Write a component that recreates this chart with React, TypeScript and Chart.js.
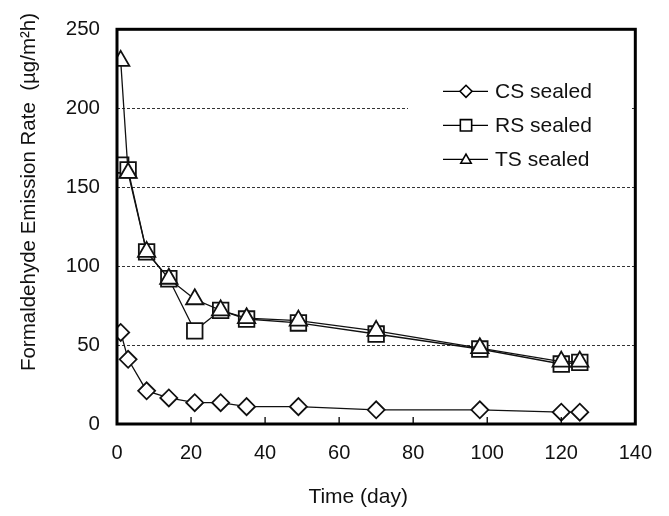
import React, { useEffect, useRef } from 'react';
import { Chart, registerables } from 'chart.js';

Chart.register(...registerables);

const days = [1, 3, 8, 14, 21, 28, 35, 49, 70, 98, 120, 125];
const csSealed = [58, 41, 21, 16.5, 13.5, 13.5, 11, 11, 9, 9, 7.5, 7.5];
const rsSealed = [164, 161, 109, 92, 59, 72, 66.5, 64, 57, 47.5, 38, 39];
const tsSealed = [230, 159, 109, 92, 79, 72, 67, 65.5, 59, 48, 39.5, 39.5];

const seriesNames = ['CS sealed', 'RS sealed', 'TS sealed'];
const seriesStyles = ['rectRot', 'rect', 'triangle'];
const xTicks = [0, 20, 40, 60, 80, 100, 120, 140];
const yTicks = [0, 50, 100, 150, 200, 250];
const xTitle = 'Time (day)';
const yTitle = 'Formaldehyde Emission Rate  (µg/m²h)';

const FONT = '"Liberation Sans", Arial, Helvetica, sans-serif';

function drawMarker(ctx: CanvasRenderingContext2D, style: string, x: number, y: number, r: number) {
  ctx.beginPath();
  if (style === 'rectRot') {
    ctx.moveTo(x - r, y);
    ctx.lineTo(x, y - r);
    ctx.lineTo(x + r, y);
    ctx.lineTo(x, y + r);
    ctx.closePath();
  } else if (style === 'rect') {
    const s = r * Math.SQRT1_2;
    ctx.rect(x - s, y - s, 2 * s, 2 * s);
  } else {
    const h = r * 0.866;
    ctx.moveTo(x, y - r * 0.85);
    ctx.lineTo(x + h, y + r * 0.65);
    ctx.lineTo(x - h, y + r * 0.65);
    ctx.closePath();
  }
  ctx.fillStyle = '#fff';
  ctx.fill();
  ctx.stroke();
}

const decorPlugin = {
  id: 'decor',
  afterDraw(chart: any) {
    const { ctx, chartArea: a, scales } = chart;
    const xs = scales.x;
    ctx.save();
    // inward ticks on x axis
    ctx.strokeStyle = '#000';
    ctx.lineWidth = 1.3;
    for (const v of xTicks) {
      const px = xs.getPixelForValue(v);
      ctx.beginPath();
      ctx.moveTo(px, a.bottom);
      ctx.lineTo(px, a.bottom - 7);
      ctx.stroke();
    }
    // plot frame
    ctx.lineWidth = 3;
    ctx.strokeRect(a.left, a.top, a.right - a.left, a.bottom - a.top);

    // legend
    const lx = a.left + 291;
    const ly = a.top + 44;
    ctx.fillStyle = '#fff';
    ctx.fillRect(lx, ly, 222, 104);
    const rowY = [ly + 18, ly + 52, ly + 86];
    ctx.font = `21px ${FONT}`;
    ctx.textAlign = 'left';
    ctx.textBaseline = 'middle';
    for (let i = 0; i < seriesNames.length; i++) {
      const yy = rowY[i];
      ctx.strokeStyle = '#000';
      ctx.lineWidth = 1.3;
      ctx.beginPath();
      ctx.moveTo(lx + 35, yy);
      ctx.lineTo(lx + 80, yy);
      ctx.stroke();
      ctx.lineWidth = 1.6;
      drawMarker(ctx, seriesStyles[i], lx + 58, yy, i === 1 ? 8 : 6);
      ctx.fillStyle = '#111';
      ctx.fillText(seriesNames[i], lx + 87, yy + 1);
    }

    // x title
    ctx.font = `21px ${FONT}`;
    ctx.textAlign = 'center';
    ctx.textBaseline = 'middle';
    ctx.fillStyle = '#111';
    ctx.fillText(xTitle, (a.left + a.right) / 2 - 18, 497);

    // y title
    ctx.translate(29, 192);
    ctx.rotate(-Math.PI / 2);
    ctx.font = `20.5px ${FONT}`;
    ctx.fillText(yTitle, 0, 0);
    ctx.restore();
  },
};

function makeDataset(label: string, values: number[], style: string, radius: number, order: number) {
  return {
    label,
    order,
    data: days.map((d, i) => ({ x: d, y: values[i] })),
    borderColor: '#111',
    borderWidth: 1.3,
    pointStyle: style,
    pointRadius: radius,
    pointHoverRadius: radius,
    pointBackgroundColor: '#fff',
    pointBorderColor: '#111',
    pointBorderWidth: 1.8,
    fill: false,
    tension: 0,
  };
}

export default function App() {
  const ref = useRef<HTMLCanvasElement | null>(null);
  useEffect(() => {
    if (!ref.current) return;
    const chart = new Chart(ref.current, {
      type: 'line',
      data: {
        datasets: [
          makeDataset(seriesNames[0], csSealed, 'rectRot', 8.5, 2),
          makeDataset(seriesNames[1], rsSealed, 'rect', 11, 1),
          makeDataset(seriesNames[2], tsSealed, 'triangle', 10, 0),
        ],
      },
      options: {
        responsive: false,
        animation: false,
        layout: { padding: { left: 0, top: 18, right: 30, bottom: 0 } },
        plugins: {
          legend: { display: false },
          tooltip: { enabled: false },
        },
        scales: {
          x: {
            type: 'linear',
            min: 0,
            max: 140,
            afterFit: (s: any) => { s.height = 92; },
            afterBuildTicks: (s: any) => { s.ticks = xTicks.map((v) => ({ value: v })); },
            grid: { display: false, drawTicks: false },
            border: { display: false },
            ticks: {
              padding: 17,
              color: '#111',
              font: { family: FONT, size: 20 },
              maxRotation: 0,
            },
          },
          y: {
            type: 'linear',
            min: 0,
            max: 250,
            afterFit: (s: any) => { s.width = 117; },
            afterBuildTicks: (s: any) => { s.ticks = yTicks.map((v) => ({ value: v })); },
            grid: {
              display: true,
              drawTicks: false,
              color: '#333',
              lineWidth: 1,
            },
            border: { display: false, dash: [3, 2] },
            ticks: {
              padding: 17,
              color: '#111',
              font: { family: FONT, size: 20.5 },
            },
          },
        },
      } as any,
      plugins: [decorPlugin],
    });
    return () => chart.destroy();
  }, []);
  return (
    <div style={{ position: 'absolute', left: 0, top: 0, width: 669, height: 516, background: '#fff' }}>
      <canvas ref={ref} width={669} height={516} />
    </div>
  );
}
